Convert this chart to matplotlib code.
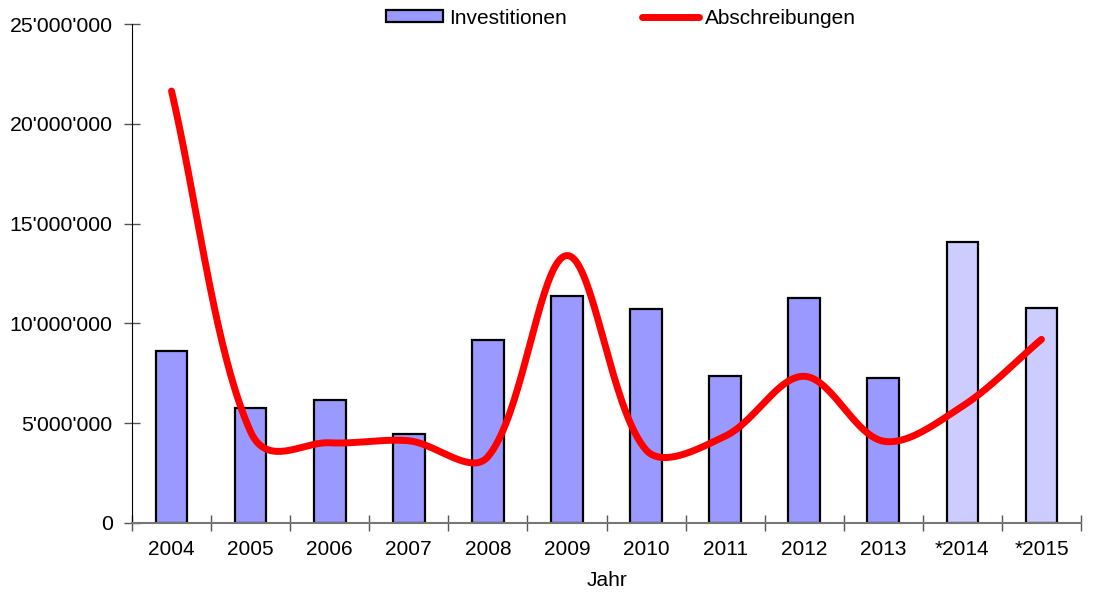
"""
Investitionen und Abschreibungen 2004-2015 (Balken + geglaettete Linie)
"""

import numpy as np
import matplotlib.pyplot as plt
from matplotlib.ticker import FuncFormatter

plt.rcParams["font.family"] = ["Liberation Sans", "DejaVu Sans"]

# Data
jahre = ["2004", "2005", "2006", "2007", "2008", "2009", "2010",
         "2011", "2012", "2013", "*2014", "*2015"]
investitionen = [8.62e6, 5.78e6, 6.18e6, 4.44e6, 9.17e6, 11.37e6, 10.72e6,
                 7.38e6, 11.26e6, 7.26e6, 14.06e6, 10.76e6]
abschreibungen = [21.64e6, 4.57e6, 4.02e6, 4.12e6, 3.32e6, 13.4e6, 3.66e6,
                  4.35e6, 7.35e6, 4.1e6, 5.85e6, 9.2e6]
prognose = [False] * 10 + [True] * 2


def smooth_curve(pts, n=40):
    """Excel-like smoothing in pixel space: Bezier, tangents weighted by
    neighbouring segment lengths (weight kept within limits)."""
    p = np.asarray(pts, float)
    m = len(p)
    seg = np.hypot(*np.diff(p, axis=0).T)
    out = [p[:1]]
    t = np.linspace(0, 1, n)[1:, None]
    for i in range(m - 1):
        d = seg[i]
        if i > 0:
            w1 = np.clip(d / (seg[i - 1] + d), 0.32, 0.68)
            c1 = p[i] + (p[i + 1] - p[i - 1]) * w1 / 3
        else:
            c1 = p[i] + (p[i + 1] - p[i]) / 3
        if i + 2 < m:
            w2 = np.clip(d / (d + seg[i + 1]), 0.32, 0.68)
            c2 = p[i + 1] - (p[i + 2] - p[i]) * w2 / 3
        else:
            c2 = p[i + 1] - (p[i + 1] - p[i]) / 3
        b = (1 - t) ** 3 * p[i] + 3 * (1 - t) ** 2 * t * c1 \
            + 3 * (1 - t) * t ** 2 * c2 + t ** 3 * p[i + 1]
        out.append(b)
    return np.vstack(out)


fig = plt.figure(figsize=(10.94, 5.94), dpi=100)
ax = fig.add_axes([132 / 1094, 71 / 594, 949 / 1094, 499 / 594])

x = np.arange(len(jahre))
ax.set_xlim(-0.5, len(jahre) - 0.5)
ax.set_ylim(0, 25e6)

farben = ["#CCCCFF" if p else "#9999FF" for p in prognose]
bars = ax.bar(x, investitionen, width=0.4, color=farben, edgecolor="black",
              linewidth=1.6, label="Investitionen", zorder=2)

# smoothing is done in screen coordinates, like the spreadsheet does
pix = ax.transData.transform(np.column_stack([x, abschreibungen]))
curve = ax.transData.inverted().transform(smooth_curve(pix))
line, = ax.plot(curve[:, 0], curve[:, 1], color="#FF0000", linewidth=5.0,
                solid_capstyle="round", label="Abschreibungen", zorder=3)

ax.set_yticks(np.arange(0, 25e6 + 1, 5e6))
ax.yaxis.set_major_formatter(
    FuncFormatter(lambda v, pos: f"{int(v):,}".replace(",", "'")))

ax.set_xticks(x)
ax.set_xticklabels(jahre)
ax.set_xticks(np.arange(-0.5, len(jahre)), minor=True)
ax.tick_params(axis="x", which="major", length=0, pad=12, labelsize=15)
ax.tick_params(axis="x", which="minor", direction="inout", length=12,
               width=1, color="#555555")
ax.tick_params(axis="y", direction="inout", length=12, width=1,
               color="#555555", labelsize=15.3, pad=8)

for side in ["top", "right"]:
    ax.spines[side].set_visible(False)
ax.spines["left"].set_color("black")
ax.spines["bottom"].set_color("#777777")
ax.spines["bottom"].set_linewidth(1.5)

ax.set_xlabel("Jahr", fontsize=15, labelpad=9)

fig.legend([bars, line], ["Investitionen", "Abschreibungen"],
           loc="center", bbox_to_anchor=(621 / 1094, 1 - 18 / 594),
           ncol=2, frameon=False, fontsize=15, handlelength=2.75,
           handleheight=0.5, handletextpad=0.3, columnspacing=3.6)

fig.savefig("out.png", dpi=100)
